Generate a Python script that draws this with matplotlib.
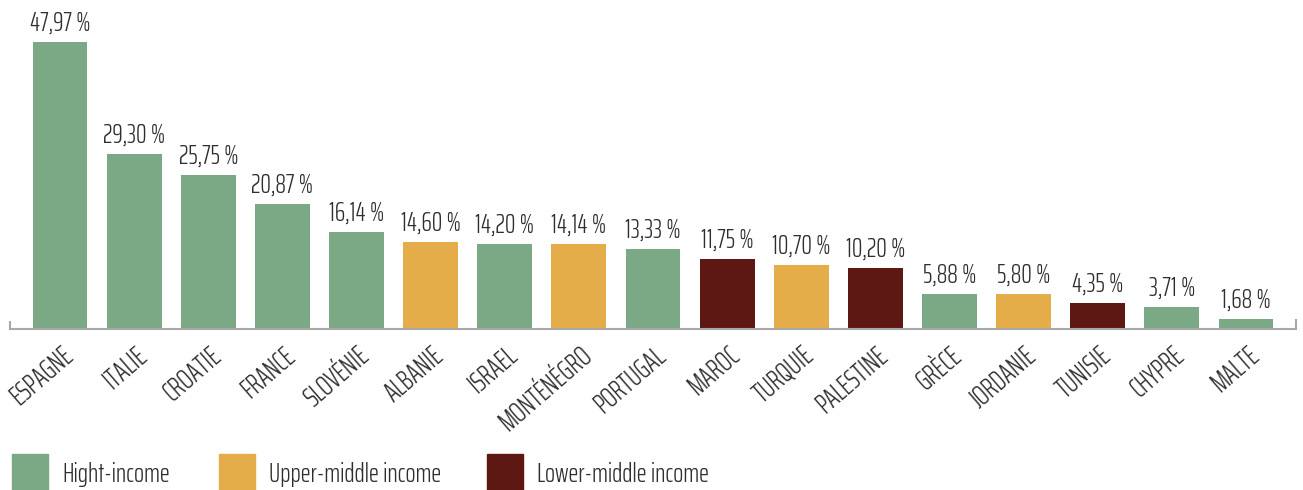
import matplotlib
matplotlib.use("Agg")
import matplotlib.pyplot as plt
from matplotlib.patches import Rectangle

# data
countries = ["ESPAGNE", "ITALIE", "CROATIE", "FRANCE", "SLOVÉNIE", "ALBANIE", "ISRAEL",
             "MONTÉNÉGRO", "PORTUGAL", "MAROC", "TURQUIE", "PALESTINE", "GRÈCE",
             "JORDANIE", "TUNISIE", "CHYPRE", "MALTE"]
values = [47.97, 29.30, 25.75, 20.87, 16.14, 14.60, 14.20, 14.14, 13.33, 11.75,
          10.70, 10.20, 5.88, 5.80, 4.35, 3.71, 1.68]
groups = ["high", "high", "high", "high", "high", "upper", "high", "upper", "high",
          "lower", "upper", "lower", "high", "upper", "lower", "high", "high"]
group_keys = ["high", "upper", "lower"]
group_names = {"high": "Hight-income", "upper": "Upper-middle income", "lower": "Lower-middle income"}
colors = {"high": "#7BA885", "upper": "#E5AD4A", "lower": "#5E1813"}

plt.rcParams['font.family'] = ["Saira ExtraCondensed", "DejaVu Sans"]
plt.rcParams['font.weight'] = 300
txt = "#2E2E2E"

W, H = 1303, 490
fig = plt.figure(figsize=(W / 100, H / 100), dpi=100)
ax = fig.add_axes([10 / W, 1 - 329 / H, 1286 / W, 329 / H])

x = range(len(countries))
ax.bar(x, values, width=0.74, color=[colors[g] for g in groups])

# value labels
for i, v in enumerate(values):
    ax.annotate(("%.2f %%" % v).replace(".", ","), (i, v), xytext=(0, 4.5),
                textcoords="offset points", ha="center", va="bottom",
                fontsize=19, color=txt)

ax.set_xlim(-0.675, len(countries) - 1 + 0.675)
ax.set_ylim(0, 55)
ax.set_xticks(list(x))
ax.set_xticklabels(countries, rotation=41, ha="right", va="top", rotation_mode="anchor",
                   fontsize=20, color=txt)
ax.tick_params(axis="x", length=0, pad=9)
ax.set_yticks([])

ax.spines["top"].set_visible(False)
for s in ["left", "right", "bottom"]:
    ax.spines[s].set_color("#A8A8A8")
    ax.spines[s].set_linewidth(1.5)
ax.spines["left"].set_bounds(0, 1.2)
ax.spines["right"].set_bounds(0, 1.5)

# legend drawn by hand at the bottom
sq_x = [12, 219, 487]
for k, px in zip(group_keys, sq_x):
    fig.add_artist(Rectangle((px / W, 0), 36 / W, 36 / H, transform=fig.transFigure,
                             color=colors[k]))
    fig.text((px + 50) / W, 16 / H, group_names[k], ha="left", va="center",
             fontsize=19, color=txt)

fig.savefig("out.png", dpi=100)
